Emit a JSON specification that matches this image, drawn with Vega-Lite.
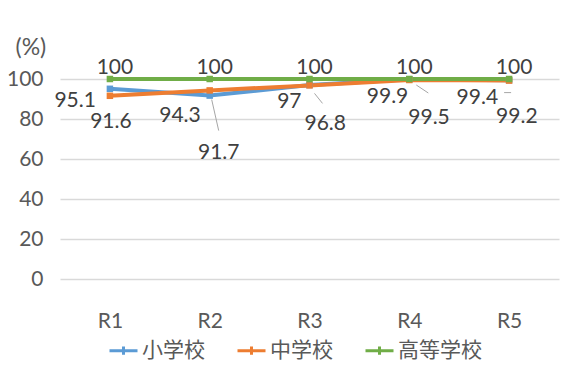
{
  "$schema": "https://vega.github.io/schema/vega-lite/v6.json",
  "width": 499,
  "height": 200,
  "autosize": {"type": "none"},
  "padding": {"left": 60, "top": 79, "right": 3, "bottom": 92},
  "background": "white",
  "config": {
    "view": {"stroke": null},
    "font": "Lato",
    "text": {"font": "Lato", "fontSize": 21, "color": "#404040", "baseline": "middle"}
  },
  "data": {
    "values": [
      {"year": "R1", "school": "小学校", "rate": 95.1},
      {"year": "R2", "school": "小学校", "rate": 91.7},
      {"year": "R3", "school": "小学校", "rate": 97},
      {"year": "R4", "school": "小学校", "rate": 99.9},
      {"year": "R5", "school": "小学校", "rate": 99.4},
      {"year": "R1", "school": "中学校", "rate": 91.6},
      {"year": "R2", "school": "中学校", "rate": 94.3},
      {"year": "R3", "school": "中学校", "rate": 96.8},
      {"year": "R4", "school": "中学校", "rate": 99.5},
      {"year": "R5", "school": "中学校", "rate": 99.2},
      {"year": "R1", "school": "高等学校", "rate": 100},
      {"year": "R2", "school": "高等学校", "rate": 100},
      {"year": "R3", "school": "高等学校", "rate": 100},
      {"year": "R4", "school": "高等学校", "rate": 100},
      {"year": "R5", "school": "高等学校", "rate": 100}
    ]
  },
  "encoding": {
    "x": {
      "field": "year",
      "type": "ordinal",
      "scale": {"type": "point", "padding": 0.5},
      "title": null,
      "axis": {
        "domain": false,
        "ticks": false,
        "grid": false,
        "labelAngle": 0,
        "labelPadding": 31,
        "labelFont": "Lato",
        "labelFontSize": 21,
        "labelColor": "#595959"
      }
    },
    "y": {
      "field": "rate",
      "type": "quantitative",
      "scale": {"domain": [0, 100], "nice": false, "zero": true},
      "axis": {
        "values": [0, 20, 40, 60, 80, 100],
        "domain": false,
        "ticks": false,
        "grid": true,
        "gridColor": "#d9d9d9",
        "gridWidth": 1.5,
        "labelPadding": 17,
        "labelFont": "Lato",
        "labelFontSize": 21,
        "labelColor": "#595959",
        "title": "(%)",
        "titleAngle": 0,
        "titleAlign": "left",
        "titleBaseline": "middle",
        "titleX": -45,
        "titleY": -32,
        "titleFont": "Lato",
        "titleFontSize": 23,
        "titleFontWeight": "normal",
        "titleColor": "#595959"
      }
    }
  },
  "layer": [
    {
      "mark": {"type": "line", "strokeWidth": 4},
      "encoding": {
        "color": {
          "field": "school",
          "type": "nominal",
          "scale": {
            "domain": ["小学校", "中学校", "高等学校"],
            "range": ["#5B9BD5", "#ED7D31", "#70AD47"]
          },
          "legend": {
            "orient": "none",
            "direction": "horizontal",
            "legendX": 48,
            "legendY": 256,
            "title": null,
            "padding": 0,
            "symbolType": "M-1,0L1,0M0,-0.3L0,0.3",
            "symbolSize": 784,
            "symbolStrokeWidth": 3,
            "labelOffset": 3,
            "columnPadding": 26,
            "labelFont": "Noto Sans CJK JP",
            "labelFontSize": 21,
            "labelColor": "#595959"
          }
        }
      }
    },
    {
      "mark": {"type": "point", "shape": "square", "filled": true, "size": 42, "opacity": 1},
      "encoding": {"color": {"field": "school", "type": "nominal"}}
    },
    {
      "transform": [{"filter": "datum.school === '小学校' && datum.year === 'R2'"}],
      "mark": {"type": "rule", "color": "#a6a6a6", "strokeWidth": 1, "xOffset": 2, "yOffset": 4, "x2Offset": 9, "y2Offset": 35},
      "encoding": {"x2": {"field": "year"}, "y2": {"field": "rate"}}
    },
    {
      "transform": [{"filter": "datum.school === '中学校' && datum.year === 'R3'"}],
      "mark": {"type": "rule", "color": "#a6a6a6", "strokeWidth": 1, "xOffset": 5, "yOffset": 8, "x2Offset": 13, "y2Offset": 18},
      "encoding": {"x2": {"field": "year"}, "y2": {"field": "rate"}}
    },
    {
      "transform": [{"filter": "datum.school === '中学校' && datum.year === 'R4'"}],
      "mark": {"type": "rule", "color": "#a6a6a6", "strokeWidth": 1, "xOffset": 7, "yOffset": 5, "x2Offset": 19, "y2Offset": 13},
      "encoding": {"x2": {"field": "year"}, "y2": {"field": "rate"}}
    },
    {
      "transform": [{"filter": "datum.school === '中学校' && datum.year === 'R5'"}],
      "mark": {"type": "rule", "color": "#a6a6a6", "strokeWidth": 1, "xOffset": -5, "yOffset": 12, "x2Offset": 2, "y2Offset": 12},
      "encoding": {"x2": {"field": "year"}, "y2": {"field": "rate"}}
    },
    {
      "transform": [{"filter": "datum.school === '高等学校'"}],
      "mark": {"type": "text", "align": "center", "dx": 5, "dy": -11},
      "encoding": {"text": {"field": "rate", "type": "quantitative"}}
    },
    {
      "transform": [{"filter": "datum.school === '小学校' && datum.year === 'R1'"}],
      "mark": {"type": "text", "align": "right", "dx": -14, "dy": 12},
      "encoding": {"text": {"field": "rate", "type": "quantitative"}}
    },
    {
      "transform": [{"filter": "datum.school === '小学校' && datum.year === 'R2'"}],
      "mark": {"type": "text", "align": "center", "dx": 9, "dy": 57},
      "encoding": {"text": {"field": "rate", "type": "quantitative"}}
    },
    {
      "transform": [{"filter": "datum.school === '小学校' && datum.year === 'R3'"}],
      "mark": {"type": "text", "align": "right", "dx": -8, "dy": 17},
      "encoding": {"text": {"field": "rate", "type": "quantitative"}}
    },
    {
      "transform": [{"filter": "datum.school === '小学校' && datum.year === 'R4'"}],
      "mark": {"type": "text", "align": "right", "dx": -1, "dy": 18},
      "encoding": {"text": {"field": "rate", "type": "quantitative"}}
    },
    {
      "transform": [{"filter": "datum.school === '小学校' && datum.year === 'R5'"}],
      "mark": {"type": "text", "align": "right", "dx": -11, "dy": 18},
      "encoding": {"text": {"field": "rate", "type": "quantitative"}}
    },
    {
      "transform": [{"filter": "datum.school === '中学校' && datum.year === 'R1'"}],
      "mark": {"type": "text", "align": "center", "dx": 1, "dy": 26},
      "encoding": {"text": {"field": "rate", "type": "quantitative"}}
    },
    {
      "transform": [{"filter": "datum.school === '中学校' && datum.year === 'R2'"}],
      "mark": {"type": "text", "align": "right", "dx": -9, "dy": 26},
      "encoding": {"text": {"field": "rate", "type": "quantitative"}}
    },
    {
      "transform": [{"filter": "datum.school === '中学校' && datum.year === 'R3'"}],
      "mark": {"type": "text", "align": "left", "dx": -5, "dy": 39},
      "encoding": {"text": {"field": "rate", "type": "quantitative"}}
    },
    {
      "transform": [{"filter": "datum.school === '中学校' && datum.year === 'R4'"}],
      "mark": {"type": "text", "align": "left", "dx": -1, "dy": 38},
      "encoding": {"text": {"field": "rate", "type": "quantitative"}}
    },
    {
      "transform": [{"filter": "datum.school === '中学校' && datum.year === 'R5'"}],
      "mark": {"type": "text", "align": "left", "dx": -13, "dy": 36},
      "encoding": {"text": {"field": "rate", "type": "quantitative"}}
    }
  ]
}
